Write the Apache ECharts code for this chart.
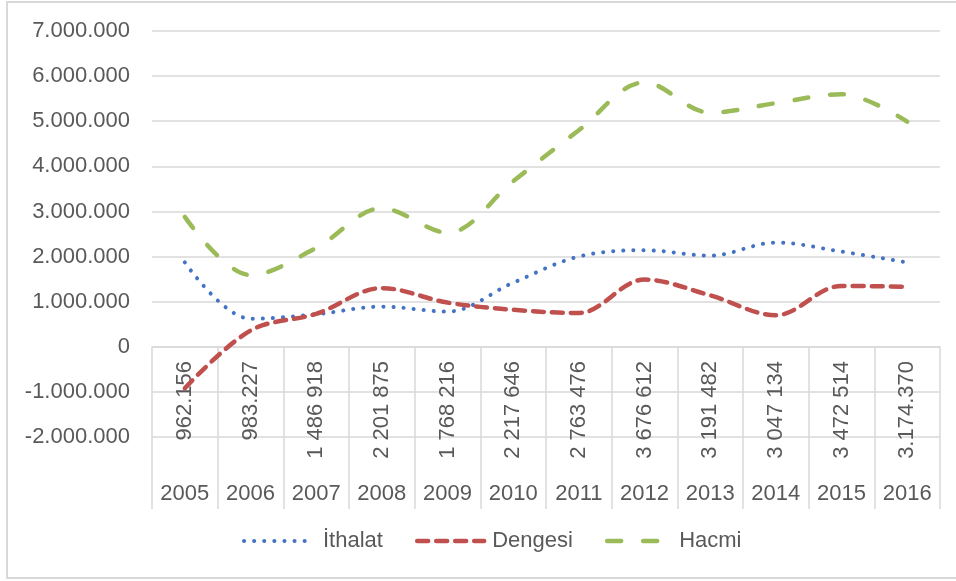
<!DOCTYPE html>
<html>
<head>
<meta charset="utf-8">
<script src="https://cdn.jsdelivr.net/npm/echarts@6/dist/echarts.min.js"></script>
<style>
html, body { margin: 0; padding: 0; background: #fff; }
#chart { width: 956px; height: 581px; }
</style>
</head>
<body>
<div id="chart"></div>
<script>
// categories
var years = ['2005','2006','2007','2008','2009','2010','2011','2012','2013','2014','2015','2016'];
var ihracatLabels = ['962.156','983.227','1 486 918','2 201 875','1 768 216','2 217 646','2 763 476','3 676 612','3 191 482','3 047 134','3 472 514','3.174.370'];

// series values
var ithalat = [1870000, 620000, 720000, 890000, 780000, 1420000, 2000000, 2140000, 2020000, 2310000, 2110000, 1870000];
var dengesi = [-920000, 360000, 730000, 1300000, 980000, 820000, 750000, 1490000, 1140000, 700000, 1350000, 1330000];
var hacmi   = [2880000, 1590000, 2190000, 3070000, 2530000, 3670000, 4800000, 5860000, 5190000, 5400000, 5600000, 4990000];

var FONT = '"Liberation Sans", Arial, sans-serif';
var GREY = '#595959';

var blueLine  = { color: '#4472C4', width: 4, type: [0.1, 10], cap: 'round' };
var redLine   = { color: '#C0504D', width: 4.5, type: [11, 8], cap: 'round' };
var greenLine = { color: '#9BBB59', width: 4.5, type: [14, 22], cap: 'round' };

function fmt(v) {
	if (v === 0) return '0';
	var s = Math.abs(v).toString().replace(/\B(?=(\d{3})+(?!\d))/g, '.');
	return (v < 0 ? '-' : '') + s;
}

var option = {
	animation: false,
	textStyle: { fontFamily: FONT },
	graphic: [{
		type: 'rect',
		shape: { x: 7, y: 2, width: 960, height: 576 },
		style: { fill: 'none', stroke: '#d9d9d9', lineWidth: 2 },
		silent: true
	}],
	grid: { left: 152, right: 16, top: 31, bottom: 144 },
	legend: {
		bottom: 24,
		left: 237,
		itemWidth: 67,
		itemHeight: 14,
		itemGap: 32,
		itemStyle: { opacity: 0 },
		textStyle: { fontSize: 22, color: GREY, fontFamily: FONT },
		data: [
			{ name: 'İthalat', lineStyle: blueLine, textStyle: { padding: [0, 0, 0, 7] } },
			{ name: 'Dengesi', lineStyle: redLine, textStyle: { padding: [0, 0, 0, 3] } },
			{ name: 'Hacmi', lineStyle: greenLine, textStyle: { padding: [0, 0, 0, 0] } }
		]
	},
	xAxis: [{
		type: 'category',
		data: ihracatLabels,
		position: 'bottom',
		offset: -90,
		boundaryGap: true,
		axisLine: { onZero: false, lineStyle: { color: '#d9d9d9', width: 1.5 } },
		axisTick: { show: true, length: 162, lineStyle: { color: '#d9d9d9', width: 1.5 } },
		axisLabel: { rotate: 90, margin: 14, fontSize: 22, color: GREY, fontFamily: FONT, interval: 0 },
		splitLine: { show: false }
	}, {
		type: 'category',
		data: years,
		position: 'bottom',
		offset: 38,
		boundaryGap: true,
		axisLine: { show: false, onZero: false },
		axisTick: { show: false },
		axisLabel: { margin: 8, fontSize: 22, color: GREY, fontFamily: FONT, interval: 0 }
	}],
	yAxis: {
		type: 'value',
		min: -2000000,
		max: 7000000,
		interval: 1000000,
		axisLine: { show: false },
		axisTick: { show: false },
		axisLabel: { margin: 22, fontSize: 22, color: GREY, fontFamily: FONT, formatter: fmt },
		splitLine: { lineStyle: { color: '#d9d9d9', width: 1.5 } }
	},
	series: [{
		name: 'İthalat',
		type: 'line',
		data: ithalat,
		smooth: 0.35,
		symbol: 'none',
		itemStyle: { color: '#4472C4' },
		lineStyle: blueLine
	}, {
		name: 'Dengesi',
		type: 'line',
		data: dengesi,
		smooth: 0.35,
		symbol: 'none',
		itemStyle: { color: '#C0504D' },
		lineStyle: redLine
	}, {
		name: 'Hacmi',
		type: 'line',
		data: hacmi,
		smooth: 0.35,
		symbol: 'none',
		itemStyle: { color: '#9BBB59' },
		lineStyle: greenLine
	}]
};

var chart = echarts.init(document.getElementById('chart'));
chart.setOption(option);
</script>
</body>
</html>
